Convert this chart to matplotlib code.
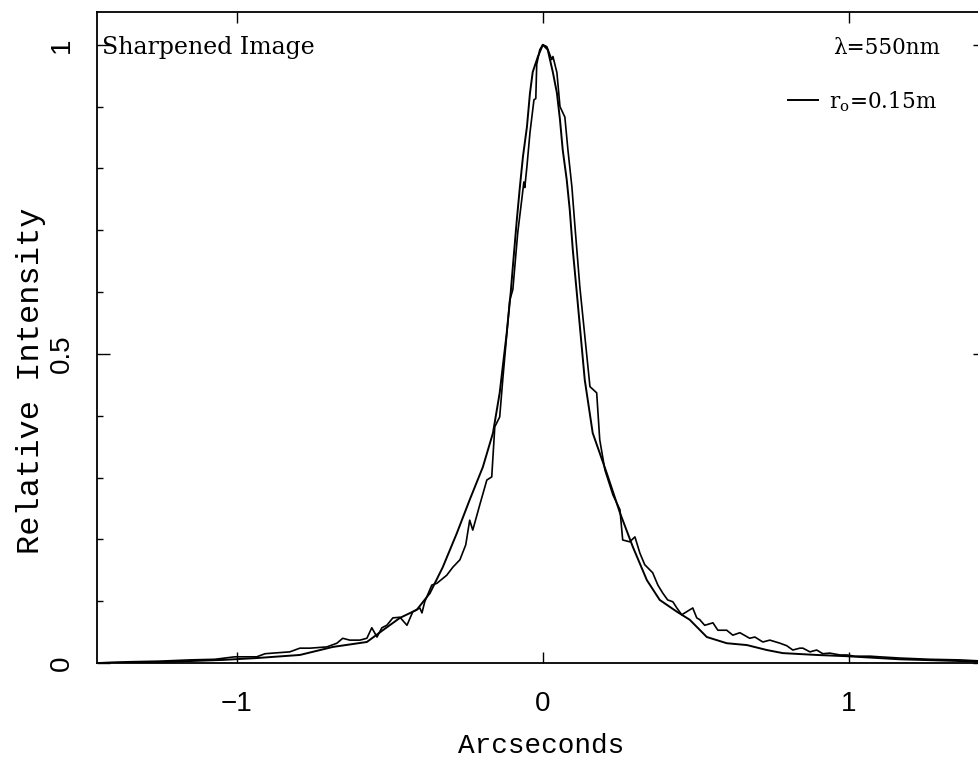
import numpy as np
import matplotlib
matplotlib.use('Agg')
from matplotlib import pyplot as plt

# model curve (smooth), arcsec vs relative intensity
model_x = [-1.457, -1.219, -1.046, -0.935, -0.794, -0.686, -0.575, -0.523, -0.467, -0.412,
           -0.369, -0.327, -0.281, -0.239, -0.196, -0.163, -0.141, -0.118, -0.105, -0.098,
           -0.085, -0.075, -0.065, -0.052, -0.042, -0.033, -0.016, 0.0, 0.016, 0.033,
           0.046, 0.056, 0.065, 0.078, 0.088, 0.098, 0.111, 0.137, 0.163, 0.209,
           0.252, 0.294, 0.340, 0.382, 0.438, 0.480, 0.536, 0.601, 0.667, 0.732,
           0.784, 0.895, 0.993, 1.167, 1.444]
model_y = [0.0, 0.002, 0.005, 0.008, 0.013, 0.026, 0.034, 0.053, 0.073, 0.086,
           0.113, 0.155, 0.210, 0.264, 0.317, 0.372, 0.437, 0.534, 0.599, 0.641,
           0.717, 0.770, 0.819, 0.867, 0.922, 0.956, 0.981, 1.0, 0.992, 0.955,
           0.922, 0.879, 0.830, 0.782, 0.733, 0.668, 0.599, 0.458, 0.372, 0.307,
           0.243, 0.188, 0.134, 0.102, 0.083, 0.070, 0.042, 0.032, 0.029, 0.021,
           0.016, 0.013, 0.011, 0.006, 0.002]

# measured sharpened image profile
meas_x = [-1.457, -1.35, -1.252, -1.154, -1.072, -1.007, -0.935, -0.908, -0.882, -0.827,
          -0.794, -0.761, -0.706, -0.673, -0.654, -0.631, -0.598, -0.575, -0.559, -0.542,
          -0.526, -0.510, -0.490, -0.467, -0.444, -0.425, -0.402, -0.395, -0.386, -0.363,
          -0.346, -0.314, -0.294, -0.271, -0.252, -0.239, -0.229, -0.206, -0.183, -0.167,
          -0.157, -0.141, -0.131, -0.108, -0.098, -0.082, -0.069, -0.062, -0.059, -0.052,
          -0.042, -0.029, -0.023, -0.020, -0.010, 0.0, 0.013, 0.029, 0.033, 0.046,
          0.056, 0.072, 0.082, 0.095, 0.105, 0.121, 0.154, 0.176, 0.186, 0.203,
          0.229, 0.252, 0.261, 0.284, 0.301, 0.317, 0.333, 0.359, 0.376, 0.392,
          0.408, 0.425, 0.438, 0.454, 0.490, 0.503, 0.513, 0.529, 0.556, 0.572,
          0.601, 0.621, 0.644, 0.676, 0.693, 0.719, 0.742, 0.775, 0.797, 0.817,
          0.840, 0.850, 0.873, 0.895, 0.915, 0.938, 0.971, 0.993, 1.02, 1.07,
          1.1, 1.167, 1.265, 1.363, 1.444]
meas_y = [0.0, 0.002, 0.003, 0.005, 0.006, 0.010, 0.010, 0.015, 0.016, 0.018,
          0.024, 0.024, 0.026, 0.032, 0.040, 0.037, 0.037, 0.040, 0.057, 0.042,
          0.057, 0.061, 0.073, 0.074, 0.061, 0.083, 0.089, 0.081, 0.099, 0.126,
          0.129, 0.142, 0.155, 0.167, 0.191, 0.231, 0.215, 0.256, 0.296, 0.301,
          0.382, 0.398, 0.458, 0.587, 0.604, 0.696, 0.749, 0.778, 0.769, 0.803,
          0.858, 0.911, 0.913, 0.968, 0.992, 1.0, 0.997, 0.976, 0.981, 0.955,
          0.900, 0.883, 0.830, 0.770, 0.706, 0.608, 0.447, 0.437, 0.361, 0.312,
          0.272, 0.248, 0.199, 0.196, 0.204, 0.178, 0.159, 0.146, 0.126, 0.113,
          0.102, 0.099, 0.089, 0.078, 0.089, 0.073, 0.070, 0.061, 0.065, 0.053,
          0.053, 0.045, 0.049, 0.040, 0.042, 0.034, 0.037, 0.032, 0.028, 0.021,
          0.024, 0.024, 0.018, 0.021, 0.015, 0.016, 0.013, 0.013, 0.011, 0.011,
          0.010, 0.008, 0.006, 0.005, 0.003]

mono = ['Liberation Mono', 'DejaVu Sans Mono']
narrow = ['Liberation Sans', 'DejaVu Sans']
serif = ['DejaVu Serif']

fig = plt.figure(figsize=(9.79, 7.64), dpi=100)
ax = fig.add_axes([0.0991, 0.1322, 0.907, 0.8521])

ax.plot(model_x, model_y, color='black', linewidth=1.4, label=r'r$_\mathregular{o}$=0.15m')
ax.plot(meas_x, meas_y, color='black', linewidth=1.2)

ax.set_xlim(-1.457, 1.445)
ax.set_ylim(0, 1.053)

ax.set_xticks([-1, 0, 1])
ax.set_xticklabels(['\u22121', '0', '1'], family=narrow, fontsize=20)
ax.set_yticks([0, 0.5, 1])
ax.set_yticklabels(['0', '0.5', '1'], family=narrow, fontsize=20, rotation=90, va='center')
ax.set_yticks(np.arange(0, 1.01, 0.1), minor=True)
ax.tick_params(axis='x', which='major', direction='in', top=True, length=8, width=1, pad=20)
ax.tick_params(axis='y', which='major', direction='in', right=True, length=9, width=1, pad=16)
ax.tick_params(axis='y', which='minor', direction='in', right=True, length=4, width=1)

for s in ax.spines.values():
    s.set_linewidth(1.3)

ax.set_xlabel('Arcseconds', family=mono, fontsize=20, labelpad=12)
ax.set_ylabel('Relative Intensity', family=mono, fontsize=23)
ax.yaxis.set_label_coords(-0.058, 0.433)

ax.text(0.006, 0.945, 'Sharpened Image', transform=ax.transAxes, family=serif,
        fontsize=17, va='center', ha='left')
ax.text(0.949, 0.945, '\u03bb=550nm', transform=ax.transAxes, family=serif,
        fontsize=15.5, va='center', ha='right')
leg = ax.legend(loc='upper right', bbox_to_anchor=(0.955, 0.895), frameon=False,
                handlelength=1.4, handletextpad=0.5, borderaxespad=0,
                prop={'family': serif, 'size': 15.5})

fig.savefig('out.png', dpi=100)
